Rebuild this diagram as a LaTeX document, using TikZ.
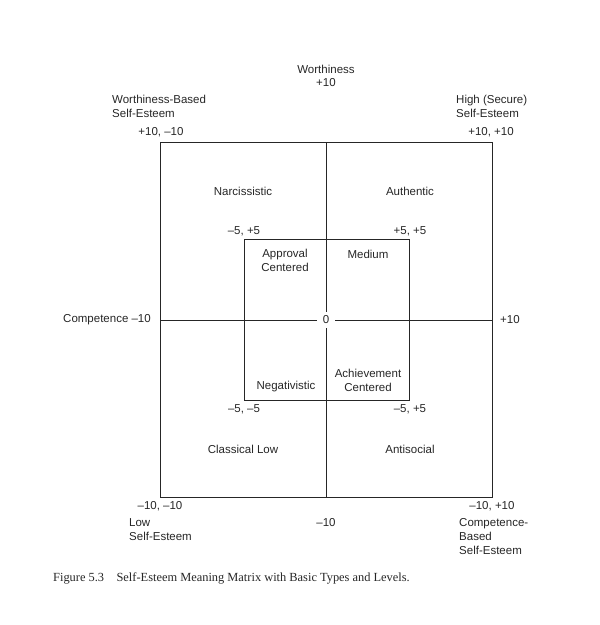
\documentclass[tikz,border=0pt]{standalone}
\usepackage{fontspec}
\setmainfont{Liberation Sans}
\newfontfamily\capfont{Liberation Serif}
\usetikzlibrary{positioning}

\begin{document}
\begin{tikzpicture}[
x=1pt, y=-1pt,
frame/.style={draw=black!85, line width=0.9pt},
txt/.style={inner sep=0pt, font=\fontsize{11.5}{14}\selectfont, text=black!85, align=center},
lefttxt/.style={txt, align=left, anchor=west},
zerotxt/.style={txt, inner xsep=6pt, inner ysep=4pt}
]
\useasboundingbox (0,0) rectangle (600,625);
% frame corners and axis ends
\coordinate (onw) at (160,142);
\coordinate (ose) at (492,497);
\coordinate (inw) at (244,239);
\coordinate (ise) at (409,400);
\coordinate (wmid) at (160,320);
\coordinate (emid) at (492,320);
\coordinate (nmid) at (326,142);
\coordinate (smid) at (326,497);
\node[zerotxt] (zero) at (326,320) {0};
\draw[frame] (onw) rectangle (ose);
\draw[frame] (inw) rectangle (ise);
\draw[frame] (wmid) -- (zero);
\draw[frame] (zero) -- (emid);
\draw[frame] (nmid) -- (zero);
\draw[frame] (zero) -- (smid);
% axis labels
\node[txt] (worth) at (326,69) {Worthiness};
\node[txt] (worthtop) at (326,83) {+10};
\node[txt, anchor=east] (comp) at (151,320) {Competence \textendash10};
\node[txt, anchor=west] (compright) at (500,320) {+10};
\node[txt] (worthbot) at (326,523) {\textendash10};
% corner types
\node[lefttxt] (wbased) at (112,106) {Worthiness-Based\\Self-Esteem};
\node[lefttxt] (high) at (456,106) {High (Secure)\\Self-Esteem};
\node[lefttxt] (low) at (129,530) {Low\\Self-Esteem};
\node[lefttxt] (cbased) at (459,537) {Competence-\\Based\\Self-Esteem};
% corner values
\node[txt] (vnw) at (161,132) {+10, \textendash10};
\node[txt] (vne) at (491,132) {+10, +10};
\node[txt] (vsw) at (160,506) {\textendash10, \textendash10};
\node[txt] (vse) at (492,506) {\textendash10, +10};
\node[txt] (inwv) at (244,231) {\textendash5, +5};
\node[txt] (inev) at (410,231) {+5, +5};
\node[txt] (isw) at (244,409) {\textendash5, \textendash5};
\node[txt] (isev) at (410,409) {\textendash5, +5};
% quadrant types
\node[txt] (narc) at (243,191) {Narcissistic};
\node[txt] (auth) at (410,191) {Authentic};
\node[txt] (approval) at (285,260) {Approval\\Centered};
\node[txt] (medium) at (368,254) {Medium};
\node[txt] (negat) at (286,387) {Negativistic};
\node[txt] (achieve) at (368,380) {Achievement\\Centered};
\node[txt] (classic) at (243,449) {Classical Low};
\node[txt] (antisoc) at (410,449) {Antisocial};
% caption
\node[anchor=west, inner sep=0pt, text=black!85, font=\capfont\fontsize{12.4}{14}\selectfont] (caption) at (53,578) {Figure 5.3\quad Self-Esteem Meaning Matrix with Basic Types and Levels.};
\end{tikzpicture}
\end{document}
